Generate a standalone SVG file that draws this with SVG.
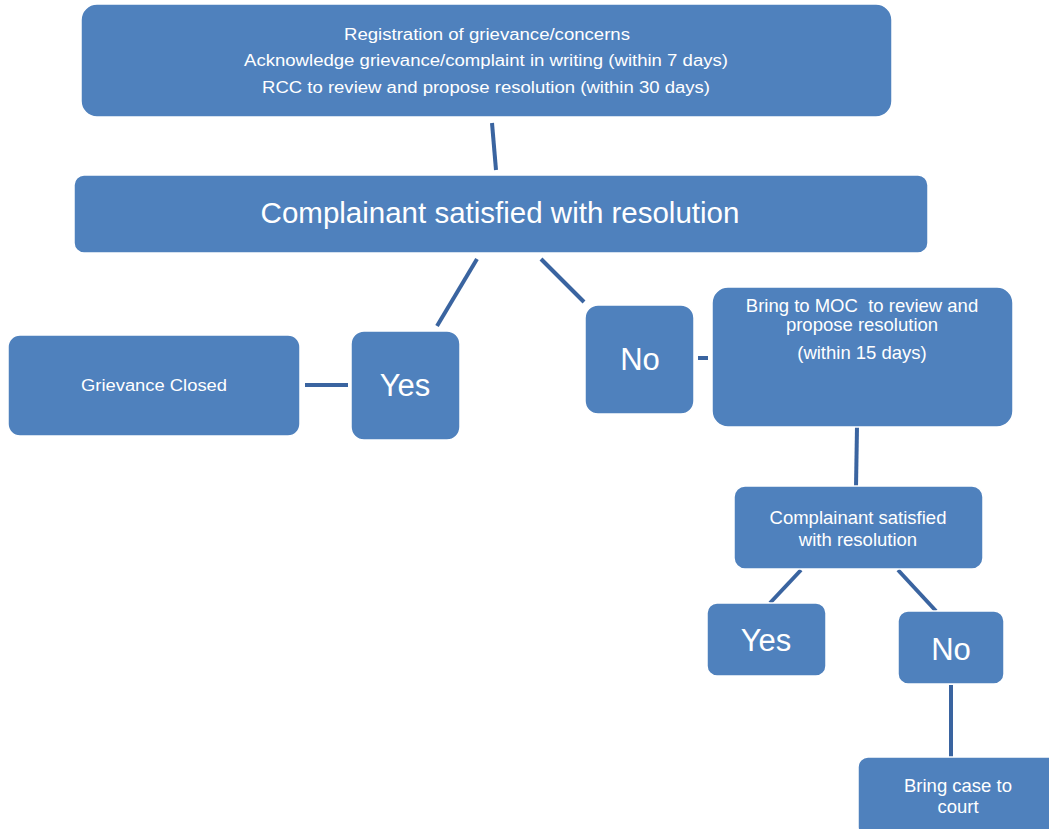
<svg xmlns="http://www.w3.org/2000/svg" width="1049" height="829" viewBox="0 0 1049 829">
<style>
.box{fill:#4F81BD;stroke:#FFFFFF;stroke-width:1.5}
.t{fill:#FFFFFF;font-family:"Liberation Sans",Arial,sans-serif;text-anchor:middle}
.s{font-size:16px}
.m{font-size:18.5px}
.l{font-size:29.5px}
.y{font-size:31px}
.c{stroke:#3A64A0;stroke-width:4;fill:none}
</style>
<rect width="1049" height="829" fill="#FFFFFF"/>
<g id="connectors">
<line class="c" x1="492" y1="123" x2="496" y2="170"/>
<line class="c" x1="477" y1="259" x2="437" y2="326"/>
<line class="c" x1="541" y1="259" x2="584" y2="302"/>
<line class="c" x1="305" y1="385" x2="348" y2="385"/>
<line class="c" x1="698" y1="358" x2="708" y2="358"/>
<line class="c" x1="857" y1="427" x2="856" y2="487"/>
<line class="c" x1="801" y1="570" x2="770" y2="603"/>
<line class="c" x1="898" y1="570" x2="936" y2="611"/>
<line class="c" x1="951" y1="685" x2="951" y2="757"/>
</g>
<g id="registration">
<rect class="box" x="81" y="4" width="811" height="113" rx="16"/>
<text class="t s" x="487" y="40" textLength="286" lengthAdjust="spacingAndGlyphs">Registration of grievance/concerns</text>
<text class="t s" x="486" y="66" textLength="484" lengthAdjust="spacingAndGlyphs">Acknowledge grievance/complaint in writing (within 7 days)</text>
<text class="t s" x="486" y="93" textLength="448" lengthAdjust="spacingAndGlyphs">RCC to review and propose resolution (within 30 days)</text>
</g>
<g id="satisfied1">
<rect class="box" x="74" y="175" width="854" height="78" rx="10"/>
<text class="t l" x="500" y="223">Complainant satisfied with resolution</text>
</g>
<g id="closed">
<rect class="box" x="8" y="335" width="292" height="101" rx="12"/>
<text class="t s" x="154" y="391" textLength="146" lengthAdjust="spacingAndGlyphs">Grievance Closed</text>
</g>
<g id="yes1">
<rect class="box" x="351" y="331" width="109" height="109" rx="13"/>
<text class="t y" x="405" y="396">Yes</text>
</g>
<g id="no1">
<rect class="box" x="585" y="305" width="109" height="109" rx="13"/>
<text class="t y" x="640" y="370">No</text>
</g>
<g id="moc">
<rect class="box" x="712" y="287" width="301" height="140" rx="16"/>
<text class="t m" x="862" y="312" xml:space="preserve">Bring to MOC  to review and</text>
<text class="t m" x="862" y="331">propose resolution</text>
<text class="t m" x="862" y="359">(within 15 days)</text>
</g>
<g id="satisfied2">
<rect class="box" x="734" y="486" width="249" height="83" rx="11"/>
<text class="t m" x="858" y="524">Complainant satisfied</text>
<text class="t m" x="858" y="546">with resolution</text>
</g>
<g id="yes2">
<rect class="box" x="707" y="603" width="119" height="73" rx="10"/>
<text class="t y" x="766" y="651">Yes</text>
</g>
<g id="no2">
<rect class="box" x="898" y="611" width="106" height="73" rx="10"/>
<text class="t y" x="951" y="660">No</text>
</g>
<g id="court">
<rect class="box" x="858" y="757" width="200" height="80" rx="10"/>
<text class="t m" x="958" y="792">Bring case to</text>
<text class="t m" x="958" y="813">court</text>
</g>
</svg>
